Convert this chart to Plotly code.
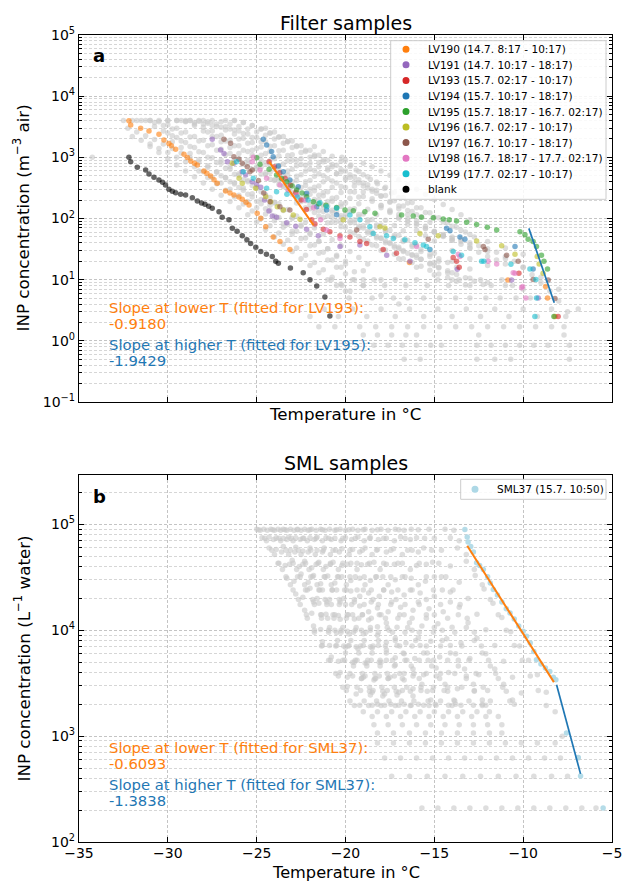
import math
import plotly.graph_objects as go

W, H = 624, 882
FONT = "DejaVu Sans"

# ---------------- panel a: filter samples ----------------
lv190_T = [-32.19,-32.09,-31.53,-31.06,-30.50,-30.22,-29.94,-29.80,-29.56,-29.09,-28.90,-28.71,-28.50,-28.34,-27.97,-27.80,-27.59,-27.40,-27.22,-26.75,-26.50,-26.28,-26.00,-25.81,-25.60,-25.43,-24.97,-24.77,-24.49,-24.07,-23.69,-23.13,-16.40,-10.86,-8.74,-8.63,-8.21]
lv190_y = [3970,3380,2990,2700,2380,1920,1690,1550,1350,1120,990,870,800,750,600,550,495,430,377,282,260,242,225,206,185,166,122,101,73,50,42,31,19,9.9,7.7,5.0,2.5]
lv191_T = [-27.50,-27.03,-26.84,-26.65,-26.28,-25.81,-25.62,-25.25,-25.00,-24.77,-24.55,-24.31,-24.12,-23.88,-23.31,-22.80,-22.19,-21.53,-20.31,-19.19,-17.68,-16.37,-13.71,-10.65,-9.15]
lv191_y = [1970,1320,1160,850,800,580,514,400,360,324,200,133,110,105,85,75,67,52,35,37,25,20,14.8,9.9,5.0]
lv193_T = [-24.30,-24.00,-23.70,-23.40,-23.10,-22.80,-22.50,-22.20,-21.90,-21.72,-21.25,-20.88,-20.31,-19.75,-19.19,-18.81,-17.88,-17.13,-13.94,-13.75,-13.60,-10.24,-8.03]
lv193_y = [850,700,560,450,350,265,200,140,95,81,67,61,52,50,42,39,31,27,23,20,16,12.7,2.5]
lv194_T = [-24.63,-24.44,-24.16,-24.07,-23.78,-23.50,-23.13,-22.66,-22.19,-21.62,-21.06,-20.50,-14.31,-14.12,-13.56,-13.28,-10.46,-9.44]
lv194_y = [1970,1590,1240,1020,720,580,427,331,258,156,138,115,69,63,50,46,35,15]
lv195_T = [-25.00,-24.81,-24.30,-23.88,-23.60,-23.31,-23.00,-22.75,-22.45,-22.19,-21.81,-21.50,-21.10,-20.50,-20.03,-19.56,-18.91,-18.34,-16.84,-16.19,-15.72,-15.06,-14.50,-14.16,-13.75,-13.18,-12.62,-12.02,-11.49,-10.18,-9.90,-9.72,-9.44,-9.25,-8.97,-8.83,-8.63,-8.27]
lv195_y = [985,770,640,514,450,400,340,292,260,227,188,175,165,152,138,134,129,122,114,110,105,103,98,95,91,87,80,72,65,61,54,46,42,35,25,20,15,2.5]
lv196_T = [-26.37,-25.99,-25.81,-25.06,-24.49,-24.21,-23.84,-23.50,-22.94,-22.56,-20.13,-18.06,-17.78,-15.81,-14.78,-12.62,-11.21,-10.46,-9.21,-9.10,-8.88]
lv196_y = [800,454,377,312,227,188,156,138,114,97,95,73,70,57,52,43,36,26,24,18,12.7]
lv197_T = [-26.84,-26.47,-26.28,-26.00,-25.81,-25.53,-25.38,-25.25,-24.90,-24.60,-24.25,-23.69,-23.13,-19.37,-15.34,-12.24,-12.15,-10.93,-10.28,-9.44,-8.59,-8.21]
lv197_y = [1970,1700,1020,930,800,700,580,620,420,260,188,156,138,65,46,35,31,25,20,10.1,9.9,4.9]
lv198_T = [-25.25,-25.19,-24.81,-24.44,-23.69,-23.22,-22.75,-22.28,-21.80,-21.40,-21.06,-20.31,-16.00,-15.25,-13.65,-13.56,-11.97,-11.49,-10.56,-10.46,-10.09,-10.03,-9.85]
lv198_y = [850,1000,620,454,353,292,242,200,150,95,65,47,35,31,26,24,20,18,13,12.7,7.4,7.7,5.0]
lv199_T = [-26.13,-25.75,-25.19,-24.44,-23.88,-23.30,-22.70,-22.10,-21.44,-21.06,-20.50,-19.75,-19.19,-18.63,-18.44,-17.69,-17.31,-16.66,-16.09,-15.62,-15.44,-15.25,-13.94,-13.47,-12.34,-12.21,-10.69,-9.62,-9.28,-9.25,-9.34]
lv199_y = [850,580,454,312,275,250,225,200,181,156,147,114,95,73,57,52,47,45,40,37,35,31,29,25,20,20,17.8,15,10.1,5.0,2.5]
blank_T = [-32.19,-32.09,-31.72,-31.25,-31.06,-30.78,-30.50,-30.30,-30.13,-29.94,-29.75,-29.56,-29.28,-29.00,-28.62,-28.34,-28.10,-27.91,-27.70,-27.50,-27.12,-26.94,-26.56,-26.37,-26.10,-25.81,-25.55,-25.34,-25.05,-24.77,-24.45,-24.12,-23.93,-23.78,-23.10,-22.38,-22.00,-21.62,-21.16,-20.88]
blank_y = [1000,850,690,620,535,472,427,390,353,300,280,264,249,242,219,193,180,171,158,147,129,105,95,69,62,52,45,39,34,29,26,24,20,18.5,15.5,13,10,7.9,5.2,2.55]

# fitted lines (panel a)
fit_a_low_T = [-24.3, -21.8]
fit_a_low_y = [850, 78]
fit_a_high_T = [-9.68, -8.25]
fit_a_high_y = [69, 4.2]

# other filter samples (grey background)
gray_a_T = [
    [-34.25],
    [-32.5,-32.0,-31.5,-31.0,-30.5,-30.0,-29.5,-29.0,-28.5,-28.0,-27.5,-27.0,-26.5,-26.0,-25.5,-25.0,-24.5,-24.0,-23.5,-23.0,-22.5,-22.0,-21.5,-21.0,-20.5,-20.0,-19.5,-19.0,-18.5,-18.0,-17.5,-17.0,-16.5,-16.0],
    [-31.0,-30.5,-30.0,-29.5,-29.0,-28.5,-28.0,-27.5,-27.0,-26.5,-26.0,-25.5,-25.0,-24.5,-24.0,-23.5,-23.0,-22.5,-22.0,-21.5,-21.0,-20.5,-20.0,-19.5,-19.0,-18.5,-18.0,-17.0,-16.0,-15.0,-14.0],
    [-30.0,-29.5,-29.0,-28.5,-28.0,-27.5,-27.0,-26.5,-26.0,-25.5,-25.0,-24.5,-24.0,-23.5,-23.0,-22.5,-22.0,-21.5,-21.0,-20.5,-20.0,-19.5,-19.0,-18.5,-18.0,-17.5,-17.0,-16.0,-15.0],
    [-31.0,-30.5,-30.0,-29.5,-29.0,-28.5,-28.0,-27.5,-27.0,-26.5,-26.0,-25.5,-25.0,-24.5,-24.0,-23.5,-23.0,-22.5,-22.0,-21.5,-21.0,-20.5,-20.0],
    [-30.0,-29.5,-29.0,-28.5,-28.0,-27.5,-27.0,-26.5,-26.0,-25.5,-25.0,-24.5,-24.0,-23.5,-23.0,-22.5,-22.0,-21.5,-21.0,-20.5,-20.0,-19.0,-18.0],
    [-28.0,-27.5,-27.0,-26.5,-26.0,-25.5,-25.0,-24.5,-24.0,-23.5,-23.0,-22.5,-22.0,-21.5,-21.0,-20.5,-20.0,-19.5,-19.0,-18.5,-18.0,-17.5,-17.0,-16.5,-16.0,-15.5,-15.0,-14.0,-13.0,-12.0],
    [-20.2,-20.0,-19.7,-19.4,-19.0,-18.6,-18.2,-17.8,-17.4,-17.0,-16.5,-16.0,-15.5,-15.0,-14.5,-14.0,-13.5,-13.0,-12.0,-11.0,-10.0],
    [-27.0,-26.5,-26.0,-25.5,-25.0,-24.5,-24.0,-23.5,-23.0,-22.5,-22.0,-21.5,-21.0,-20.5,-20.0,-19.5,-19.0,-18.0,-17.0],
    [-26.0,-25.5,-25.0,-24.5,-24.0,-23.5,-23.0,-22.5,-22.0,-21.5,-21.0,-20.5,-20.0,-19.5,-19.0,-18.5,-18.0,-17.5,-17.0,-16.5,-16.0,-15.0,-14.0,-13.0],
    [-24.5,-24.0,-23.5,-23.0,-22.5,-22.0,-21.5,-21.0,-20.5,-20.0,-19.5,-19.0,-18.5,-18.0,-17.5,-17.0,-16.5,-16.0,-15.5,-15.0,-14.5,-14.0,-13.0],
    [-22.0,-21.5,-21.0,-20.5,-20.0,-19.5,-19.0,-18.5,-18.0,-17.5,-17.0,-16.5,-16.0,-15.0,-14.0,-13.0,-12.0,-11.0,-10.0],
    [-15.0,-14.5,-14.0,-13.5,-13.0,-12.5,-12.0,-11.5,-11.0,-10.5,-10.0,-9.5,-9.0,-8.5,-8.0,-7.5],
    [-18.0,-17.5,-17.0,-16.5,-16.0,-15.5,-15.0,-14.5,-14.0,-13.5,-13.0,-12.0,-11.0,-10.0,-9.0,-8.0],
    [-19.0,-18.5,-18.0,-17.5,-17.0,-16.5,-16.0,-15.5,-15.0,-14.5,-14.0,-13.5,-13.0],
    [-29.0,-28.5,-28.0,-27.5,-27.0,-26.5,-26.0,-25.5,-25.0,-24.5,-24.0,-23.5,-23.0,-22.5,-22.0,-21.5,-21.0],
    [-32.0,-31.5,-31.0,-30.5,-30.0,-29.5,-29.0,-28.5,-28.0,-27.5,-27.0,-26.5,-26.0,-25.5,-25.0,-24.5,-24.0,-23.5,-23.0],
    [-27.0,-26.5,-26.0,-25.5,-25.0,-24.5,-24.0,-23.5,-23.0,-22.5,-22.0,-21.5,-21.0,-20.5,-20.0,-19.5,-19.0],
    [-23.0,-22.5,-22.0,-21.5,-21.0,-20.5,-20.0,-19.5,-19.0,-18.5,-18.0,-17.5,-17.0,-16.5,-16.0,-15.5,-15.0,-14.5,-14.0,-13.5,-13.0,-12.5,-12.0,-11.5,-11.0],
    [-31.75,-31.25,-30.75,-30.25,-29.75,-29.25,-28.75,-28.25,-27.75,-27.25,-26.75,-26.25,-25.75,-25.25,-24.75,-24.25,-23.75,-23.25,-22.75,-22.25,-21.75,-21.25,-20.75,-20.25],
    [-30.75,-30.25,-29.75,-29.25,-28.75,-28.25,-27.75,-27.25,-26.75,-26.25,-25.75,-25.25,-24.75,-24.25,-23.75,-23.25,-22.75,-22.25,-21.75,-21.25,-20.75,-20.25,-19.75,-19.25,-18.75],
    [-29.25,-28.75,-28.25,-27.75,-27.25,-26.75,-26.25,-25.75,-25.25,-24.75,-24.25,-23.75,-23.25,-22.75,-22.25,-21.75,-21.25,-20.75,-20.25,-19.75,-19.25,-18.75,-18.25,-17.75,-17.25,-16.75],
    [-27.75,-27.25,-26.75,-26.25,-25.75,-25.25,-24.75,-24.25,-23.75,-23.25,-22.75,-22.25,-21.75,-21.25,-20.75,-20.25,-19.75,-19.25,-18.75,-18.25,-17.75,-17.25,-16.75,-16.25,-15.75,-15.25,-14.75],
    [-26.25,-25.75,-25.25,-24.75,-24.25,-23.75,-23.25,-22.75,-22.25,-21.75,-21.25,-20.75,-20.25,-19.75,-19.25,-18.75,-18.25,-17.75,-17.25,-16.75,-16.25,-15.75,-15.25],
    [-29.75,-29.25,-28.75,-28.25,-27.75,-27.25,-26.75,-26.25,-25.75,-25.25,-24.75,-24.25,-23.75,-23.25,-22.75,-22.25,-21.75,-21.25,-20.75,-20.25],
    [-25.25,-24.75,-24.25,-23.75,-23.25,-22.75,-22.25,-21.75,-21.25,-20.75,-20.25,-19.75,-19.25,-18.75,-18.25,-17.75,-17.25,-16.75,-16.25,-15.75,-15.25,-14.75,-14.25,-13.75],
    [-23.75,-23.25,-22.75,-22.25,-21.75,-21.25,-20.75,-20.25,-19.75,-19.25,-18.75,-18.25,-17.75,-17.25,-16.75,-16.25,-15.75,-15.25,-14.75,-14.25,-13.75,-13.25,-12.75,-12.25],
    [-21.75,-21.25,-20.75,-20.25,-19.75,-19.25,-18.75,-18.25,-17.75,-17.25,-16.75,-16.25,-15.75,-15.25,-14.75,-14.25,-13.75,-13.25,-12.75],
    [-28.25,-27.75,-27.25,-26.75,-26.25,-25.75,-25.25,-24.75,-24.25,-23.75,-23.25,-22.75,-22.25,-21.75,-21.25,-20.75,-20.25,-19.75],
    [-24.75,-24.25,-23.75,-23.25,-22.75,-22.25,-21.75,-21.25,-20.75,-20.25,-19.75,-19.25,-18.75,-18.25,-17.75,-17.25,-16.75,-16.25,-15.75,-15.25,-14.75,-14.25],
    [-32.25,-31.75,-31.25,-30.75,-30.25,-29.75,-29.25,-28.75,-28.25,-27.75,-27.25,-26.75,-26.25,-25.75,-25.25,-24.75,-24.25],
    [-28.75,-28.25,-27.75,-27.25,-26.75,-26.25,-25.75,-25.25,-24.75,-24.25,-23.75,-23.25,-22.75,-22.25,-21.75,-21.25,-20.75,-20.25,-19.75,-19.25],
    [-26.75,-26.25,-25.75,-25.25,-24.75,-24.25,-23.75,-23.25,-22.75,-22.25,-21.75,-21.25,-20.75,-20.25,-19.75,-19.25,-18.75,-18.25],
    [-22.75,-22.25,-21.75,-21.25,-20.75,-20.25,-19.75,-19.25,-18.75,-18.25,-17.75,-17.25,-16.75,-16.25,-15.75,-15.25,-14.75,-14.25,-13.75,-13.25],
]
gray_a_y = [
    [1000],
    [4000,4000,4000,4000,4000,4000,4000,3900,3700,3500,3300,3100,2900,2700,2400,2100,1800,1550,1300,1100,950,800,700,620,540,470,400,340,280,230,190,160,135,115],
    [4000,3800,3400,3000,2600,2200,1900,1600,1350,1150,950,800,650,520,420,340,270,210,170,135,110,90,72,58,46,37,30,22,16,12,10],
    [4000,4000,3800,3500,3100,2700,2300,1900,1550,1250,1000,800,640,500,400,320,250,200,160,130,105,85,70,57,47,40,34,25,19],
    [1500,1200,950,750,600,480,380,300,240,190,150,115,88,66,50,38,29,22,17,13,10,8,6.5],
    [2500,2100,1750,1450,1200,980,800,640,510,400,310,240,180,135,100,75,56,42,32,25,20,14,10],
    [4000,4000,3800,3500,3200,2900,2600,2300,2000,1700,1450,1200,1000,820,670,540,430,340,270,210,165,130,100,80,64,52,43,30,22,17],
    [1000,900,750,620,520,440,370,310,260,220,180,150,125,105,88,75,64,55,42,33,26],
    [500,400,320,250,190,145,110,82,62,47,36,27,21,16,12.5,10,8,5.5,4],
    [2000,1700,1400,1150,950,780,640,520,420,340,275,220,180,145,118,96,78,64,53,44,37,27,20,15],
    [3000,2600,2200,1850,1550,1300,1080,900,740,600,480,380,300,235,185,145,115,92,75,62,52,44,33],
    [300,240,190,150,120,95,76,60,48,39,32,27,23,17,13,10.5,9,8,7],
    [60,55,50,45,40,36,32,28,24,20,16,12,9,6.5,4.5,3],
    [150,125,105,90,78,68,60,53,47,42,37,29,22,16,11,7],
    [800,700,600,510,430,360,300,250,205,170,140,115,95],
    [4000,3300,2700,2200,1800,1450,1150,900,700,550,430,330,250,190,145,110,85],
    [2200,1900,1650,1400,1200,1000,850,700,580,470,380,300,240,190,150,118,92,72,56],
    [900,700,540,420,320,245,185,140,105,78,58,43,32,24,18,13.5,10],
    [900,760,640,540,450,380,320,270,228,192,162,137,116,98,83,70,60,51,44,38,33,28,24,21,18],
    [4000,4000,3700,3300,2900,2500,2150,1850,1550,1300,1100,920,770,640,530,440,360,295,240,195,160,130,105,85],
    [3200,2700,2250,1850,1500,1230,1000,820,660,530,430,345,275,220,175,140,110,88,70,56,45,36,29,23,18],
    [4000,4000,3900,3600,3200,2800,2400,2050,1750,1480,1250,1050,880,730,600,490,400,325,265,215,175,142,115,94,77,63],
    [2600,2200,1850,1550,1300,1080,900,750,620,510,420,345,285,235,192,158,130,107,88,72,60,50,42,35,29,24,20],
    [4000,3700,3300,2900,2500,2150,1830,1550,1300,1090,910,760,630,520,430,355,290,238,195,160,130,107,88],
    [1800,1450,1150,920,730,580,460,365,290,225,175,135,104,80,62,48,37,28,21,16],
    [1300,1080,890,730,600,490,400,325,265,215,175,142,116,95,78,64,53,44,37,31,26,22,19,16],
    [420,345,282,230,188,154,126,103,85,70,58,48,40,34,29,25,21.5,18.5,16,14,12.2,10.7,9.4,8.3],
    [1500,1250,1040,860,710,585,480,395,325,268,220,182,150,124,103,86,72,60,50],
    [600,470,370,290,225,172,132,100,76,58,44,33,25,19,14.5,11,8.5,6.5],
    [700,570,465,380,310,252,205,167,136,111,91,75,62,51,43,36,30,25.5,21.5,18,15.5,13],
    [3000,2600,2250,1950,1650,1400,1180,990,830,690,570,470,385,315,255,205,165],
    [4000,4000,3800,3500,3150,2800,2450,2100,1800,1520,1280,1070,890,740,610,500,410,335,275,225],
    [4000,4000,3700,3300,2900,2500,2150,1800,1500,1250,1030,850,700,575,470,385,315,258],
    [180,150,125,104,87,73,61,51,43,36,30.5,26,22,19,16.5,14.2,12.4,10.8,9.4,8.2],
]
# detection-limit rows of the grey samples (level, temperatures)
rows_a_levels = [10, 8, 5, 3.3, 2.5, 1.7, 1.25, 0.85, 0.5]
rows_a_T = [
    [-20.8,-19.6,-18.4,-17.2,-16.0,-14.8,-13.6,-12.4,-11.2],
    [-20.2,-19.0,-17.8,-16.6,-15.4,-14.2,-13.0,-11.8,-10.6],
    [-19.8,-18.5,-17.3,-16.5,-15.6,-14.7,-13.8,-13.0,-12.1,-11.3,-10.4,-9.6],
    [-21.2,-19.6,-18.0,-16.4,-14.8,-13.2,-11.6,-10.0,-8.4,-6.9],
    [-22.0,-20.4,-18.8,-17.2,-15.6,-14.0,-12.4,-10.8,-9.2,-7.6],
    [-21.5,-20.6,-19.2,-18.3,-17.4,-16.5,-15.6,-14.7,-13.8,-12.9,-12.0,-11.1,-10.2,-9.3,-8.4,-7.7],
    [-19.0,-18.2,-17.4,-16.6,-16.0,-12.5,-7.7],
    [-18.4,-17.6,-16.8,-16.0,-15.2,-14.6,-12.6,-11.8,-11.0,-10.2,-9.4,-8.6,-7.4],
    [-16.7,-15.8,-12.6,-11.6,-10.7,-7.4],
]

# ---------------- panel b: SML samples ----------------
sml37_T = [-13.28,-13.15,-13.10,-12.95,-12.80,-12.62,-12.45,-12.24,-12.00,-11.85,-11.68,-11.45,-11.20,-10.95,-10.74,-10.50,-10.25,-10.00,-9.81,-9.60,-9.40,-9.25,-9.00,-8.75,-8.50,-8.30,-8.16,-7.56,-6.90,-6.77,-5.50]
sml37_y = [89800,75900,68100,62000,55000,43500,41000,37500,32000,28000,24300,21500,18500,16000,14600,12800,11000,9800,8770,7600,6300,5280,4800,4400,4090,3600,3410,1070,630,421,209]

fit_b_low_T = [-13.15, -8.27]
fit_b_low_y = [63000, 3240]
fit_b_high_T = [-8.12, -6.77]
fit_b_high_y = [3060, 440]

gray_b_T = [
    [-25.0,-24.7,-24.3,-23.8,-23.3,-22.8,-22.3,-21.8,-21.3,-20.8,-20.3,-19.9],
    [-24.6,-24.3,-23.9,-23.4,-22.9,-22.4,-21.9,-21.4,-20.9,-20.4,-19.9,-19.4],
    [-24.2,-23.9,-23.5,-23.0,-22.5,-22.0,-21.5,-21.0,-20.5,-20.0,-19.5,-19.0,-18.5],
    [-23.8,-23.5,-23.1,-22.6,-22.1,-21.6,-21.1,-20.6,-20.1,-19.6,-19.1,-18.6],
    [-23.5,-23.2,-22.8,-22.3,-21.8,-21.3,-20.8,-20.3,-19.8,-19.3,-18.8,-18.3,-17.8],
    [-23.1,-22.8,-22.4,-21.9,-21.4,-20.9,-20.4,-19.9,-19.4,-18.9,-18.4,-17.9],
    [-22.7,-22.4,-22.0,-21.5,-21.0,-20.5,-20.0,-19.5,-19.0,-18.5,-18.0,-17.5,-17.0],
    [-22.3,-22.0,-21.6,-21.1,-20.6,-20.1,-19.6,-19.1,-18.6,-18.1,-17.6,-17.1],
    [-21.9,-21.6,-21.2,-20.7,-20.2,-19.7,-19.2,-18.7,-18.2,-17.7,-17.2,-16.7,-16.2],
    [-21.4,-21.1,-20.7,-20.2,-19.7,-19.2,-18.7,-18.2,-17.7,-17.2,-16.7,-16.2],
    [-20.9,-20.6,-20.2,-19.7,-19.2,-18.7,-18.2,-17.7,-17.2,-16.7,-16.2,-15.7,-15.2],
    [-20.3,-20.0,-19.6,-19.1,-18.6,-18.1,-17.6,-17.1,-16.6,-16.1,-15.6,-15.1],
    [-19.6,-19.3,-18.9,-18.4,-17.9,-17.4,-16.9,-16.4,-15.9,-15.4,-14.9,-14.4,-13.9],
    [-18.9,-18.6,-18.2,-17.7,-17.2,-16.7,-16.2,-15.7,-15.2,-14.7,-14.2,-13.7],
    [-18.0,-17.7,-17.3,-16.8,-16.3,-15.8,-15.3,-14.8,-14.3,-13.8,-13.3,-12.8,-12.3],
    [-17.2,-16.9,-16.5,-16.0,-15.5,-15.0,-14.5,-14.0,-13.5,-13.0,-12.5,-12.0],
    [-16.3,-16.0,-15.6,-15.1,-14.6,-14.1,-13.6,-13.1,-12.6,-12.1,-11.6,-11.1,-10.6],
    [-15.3,-15.0,-14.6,-14.1,-13.6,-13.1,-12.6,-12.1,-11.6,-11.1,-10.6,-10.1],
    [-14.4,-14.1,-13.7,-13.2,-12.7,-12.2,-11.7,-11.2,-10.7,-10.2,-9.7,-9.2,-8.7,-8.2,-7.8],
    [-24.8,-24.45,-24.0,-23.55,-23.1,-22.65,-22.2,-21.75,-21.3,-20.85,-20.4,-19.95,-19.5],
    [-24.4,-24.05,-23.6,-23.15,-22.7,-22.25,-21.8,-21.35,-20.9,-20.45,-20.0,-19.55,-19.1,-18.65,-18.2],
    [-24.0,-23.65,-23.2,-22.75,-22.3,-21.85,-21.4,-20.95,-20.5,-20.05,-19.6,-19.15,-18.7],
    [-23.65,-23.3,-22.85,-22.4,-21.95,-21.5,-21.05,-20.6,-20.15,-19.7,-19.25,-18.8,-18.35,-17.9,-17.45],
    [-23.3,-22.95,-22.5,-22.05,-21.6,-21.15,-20.7,-20.25,-19.8,-19.35,-18.9,-18.45,-18.0],
    [-22.9,-22.55,-22.1,-21.65,-21.2,-20.75,-20.3,-19.85,-19.4,-18.95,-18.5,-18.05,-17.6,-17.15,-16.7],
    [-22.5,-22.15,-21.7,-21.25,-20.8,-20.35,-19.9,-19.45,-19.0,-18.55,-18.1,-17.65,-17.2],
    [-22.1,-21.75,-21.3,-20.85,-20.4,-19.95,-19.5,-19.05,-18.6,-18.15,-17.7,-17.25,-16.8,-16.35,-15.9],
    [-21.65,-21.3,-20.85,-20.4,-19.95,-19.5,-19.05,-18.6,-18.15,-17.7,-17.25,-16.8,-16.35],
    [-21.15,-20.8,-20.35,-19.9,-19.45,-19.0,-18.55,-18.1,-17.65,-17.2,-16.75,-16.3,-15.85,-15.4,-14.95],
    [-20.6,-20.25,-19.8,-19.35,-18.9,-18.45,-18.0,-17.55,-17.1,-16.65,-16.2,-15.75,-15.3],
    [-20.0,-19.65,-19.2,-18.75,-18.3,-17.85,-17.4,-16.95,-16.5,-16.05,-15.6,-15.15,-14.7,-14.25,-13.8],
    [-19.3,-18.95,-18.5,-18.05,-17.6,-17.15,-16.7,-16.25,-15.8,-15.35,-14.9,-14.45,-14.0],
    [-18.5,-18.15,-17.7,-17.25,-16.8,-16.35,-15.9,-15.45,-15.0,-14.55,-14.1,-13.65,-13.2,-12.75,-12.3],
    [-17.6,-17.25,-16.8,-16.35,-15.9,-15.45,-15.0,-14.55,-14.1,-13.65,-13.2,-12.75,-12.3],
    [-16.7,-16.35,-15.9,-15.45,-15.0,-14.55,-14.1,-13.65,-13.2,-12.75,-12.3,-11.85,-11.4,-10.95,-10.5],
    [-13.9,-13.6,-13.2,-12.75,-12.3,-11.85,-11.4,-10.95,-10.5,-10.05,-9.6,-9.15,-8.7],
    [-24.9,-24.55,-24.15,-23.75,-23.35,-22.95,-22.55,-22.15,-21.75,-21.35,-20.95,-20.55,-20.15,-19.75],
    [-24.1,-23.75,-23.35,-22.95,-22.55,-22.15,-21.75,-21.35,-20.95,-20.55,-20.15,-19.75,-19.35,-18.95],
    [-23.4,-23.05,-22.65,-22.25,-21.85,-21.45,-21.05,-20.65,-20.25,-19.85,-19.45,-19.05,-18.65,-18.25],
    [-22.7,-22.35,-21.95,-21.55,-21.15,-20.75,-20.35,-19.95,-19.55,-19.15,-18.75,-18.35,-17.95,-17.55],
    [-22.0,-21.65,-21.25,-20.85,-20.45,-20.05,-19.65,-19.25,-18.85,-18.45,-18.05,-17.65,-17.25,-16.85],
    [-21.3,-20.95,-20.55,-20.15,-19.75,-19.35,-18.95,-18.55,-18.15,-17.75,-17.35,-16.95,-16.55,-16.15],
    [-20.5,-20.15,-19.75,-19.35,-18.95,-18.55,-18.15,-17.75,-17.35,-16.95,-16.55,-16.15,-15.75,-15.35],
    [-19.8,-19.45,-19.05,-18.65,-18.25,-17.85,-17.45,-17.05,-16.65,-16.25,-15.85,-15.45,-15.05,-14.65],
    [-19.0,-18.65,-18.25,-17.85,-17.45,-17.05,-16.65,-16.25,-15.85,-15.45,-15.05,-14.65,-14.25,-13.85],
    [-18.2,-17.85,-17.45,-17.05,-16.65,-16.25,-15.85,-15.45,-15.05,-14.65,-14.25,-13.85,-13.45,-13.05],
    [-17.0,-16.65,-16.25,-15.85,-15.45,-15.05,-14.65,-14.25,-13.85,-13.45,-13.05,-12.65,-12.25,-11.85],
    [-15.9,-15.55,-15.15,-14.75,-14.35,-13.95,-13.55,-13.15,-12.75,-12.35,-11.95,-11.55,-11.15,-10.75],
]
gray_b_y = [
    [90000,75000,60000,43000,31000,22000,15500,11000,7800,5600,4000,2950],
    [90000,76000,58000,41000,29000,20500,14500,10200,7200,5100,3600,2500],
    [90000,75000,62000,46000,34000,25000,18000,13000,9500,6900,5000,3600,2600],
    [90000,74000,57000,40000,28500,20000,14200,10000,7100,5000,3500,2450],
    [90000,76000,61000,45000,33000,24000,17500,12700,9200,6700,4900,3500,2500],
    [90000,75000,56000,39000,27500,19500,13800,9800,7000,4900,3400,2400],
    [90000,74000,60000,44000,32500,24000,17500,12800,9300,6800,5000,3600,2600],
    [90000,75000,57000,40000,28000,20000,14000,10000,7000,5000,3500,2450],
    [90000,76000,60000,44000,32000,23500,17000,12500,9000,6500,4700,3400,2400],
    [90000,75000,57000,41000,29500,21000,15000,10800,7700,5500,3900,2800],
    [90000,74000,59000,43000,31000,22500,16200,11700,8400,6000,4300,3100,2200],
    [90000,75000,58000,41500,29500,21000,15000,10700,7600,5400,3800,2700],
    [90000,76000,60000,44000,32000,23000,16500,11800,8500,6100,4400,3100,2200],
    [90000,75000,58000,42000,30000,21500,15500,11000,7900,5600,4000,2800],
    [90000,74000,59000,43000,31000,22500,16000,11500,8300,6000,4300,3100,2200],
    [90000,76000,57000,41000,29000,21000,15000,10700,7600,5400,3800,2700],
    [90000,75000,60000,44000,32000,23000,16500,11800,8400,6000,4300,3100,2200],
    [90000,74000,57000,40500,28500,20000,14200,10100,7200,5100,3600,2550],
    [90000,75000,60000,45000,33000,24500,18000,13200,9700,7100,5200,3800,2600,1700,1000],
    [88000,70000,52000,37500,27000,19500,14000,10000,7200,5200,3700,2700,1950],
    [88000,72000,55000,42000,32000,24000,18500,14000,10600,8000,6100,4600,3500,2650,2000],
    [88000,70000,52000,37500,27000,19500,14000,10000,7200,5200,3700,2700,1950],
    [88000,72000,55000,42000,32000,24000,18500,14000,10600,8000,6100,4600,3500,2650,2000],
    [88000,70000,52000,37500,27000,19500,14000,10000,7200,5200,3700,2700,1950],
    [88000,72000,55000,42000,32000,24000,18500,14000,10600,8000,6100,4600,3500,2650,2000],
    [88000,70000,52000,37500,27000,19500,14000,10000,7200,5200,3700,2700,1950],
    [88000,72000,55000,42000,32000,24000,18500,14000,10600,8000,6100,4600,3500,2650,2000],
    [88000,70000,52000,37500,27000,19500,14000,10000,7200,5200,3700,2700,1950],
    [88000,72000,55000,42000,32000,24000,18500,14000,10600,8000,6100,4600,3500,2650,2000],
    [88000,70000,52000,37500,27000,19500,14000,10000,7200,5200,3700,2700,1950],
    [88000,72000,55000,42000,32000,24000,18500,14000,10600,8000,6100,4600,3500,2650,2000],
    [88000,70000,52000,37500,27000,19500,14000,10000,7200,5200,3700,2700,1950],
    [88000,72000,55000,42000,32000,24000,18500,14000,10600,8000,6100,4600,3500,2650,2000],
    [88000,70000,52000,37500,27000,19500,14000,10000,7200,5200,3700,2700,1950],
    [88000,72000,55000,42000,32000,24000,18500,14000,10600,8000,6100,4600,3500,2650,2000],
    [88000,70000,52000,37500,27000,19500,14000,10000,7200,5200,3700,2700,1950],
    [89000,74000,57000,43000,32000,24000,17500,13000,9600,7100,5200,3900,2900,2150],
    [89000,74000,57000,43000,32000,24000,17500,13000,9600,7100,5200,3900,2900,2150],
    [89000,74000,57000,43000,32000,24000,17500,13000,9600,7100,5200,3900,2900,2150],
    [89000,74000,57000,43000,32000,24000,17500,13000,9600,7100,5200,3900,2900,2150],
    [89000,74000,57000,43000,32000,24000,17500,13000,9600,7100,5200,3900,2900,2150],
    [89000,74000,57000,43000,32000,24000,17500,13000,9600,7100,5200,3900,2900,2150],
    [89000,74000,57000,43000,32000,24000,17500,13000,9600,7100,5200,3900,2900,2150],
    [89000,74000,57000,43000,32000,24000,17500,13000,9600,7100,5200,3900,2900,2150],
    [89000,74000,57000,43000,32000,24000,17500,13000,9600,7100,5200,3900,2900,2150],
    [89000,74000,57000,43000,32000,24000,17500,13000,9600,7100,5200,3900,2900,2150],
    [89000,74000,57000,43000,32000,24000,17500,13000,9600,7100,5200,3900,2900,2150],
    [89000,74000,57000,43000,32000,24000,17500,13000,9600,7100,5200,3900,2900,2150],
]
rows_b_levels = [1960, 1700, 1535, 1280, 1070, 860, 620, 417, 209]
rows_b_T = [
    [-19.2,-18.5,-17.8,-17.0,-16.3,-15.6,-14.9,-14.2,-13.5,-12.8,-12.1],
    [-19.0,-18.2,-17.4,-16.6,-15.8,-15.0,-14.2,-13.4,-12.6,-11.9],
    [-18.5,-17.7,-16.9,-16.1,-15.3,-14.5,-13.7,-12.9,-12.1,-11.4],
    [-18.4,-17.6,-16.8,-16.0,-15.2,-14.4,-13.6,-12.8,-12.0,-11.2],
    [-18.2,-17.3,-16.4,-15.5,-14.6,-13.7,-12.8,-11.9,-11.2],
    [-18.2,-17.3,-16.4,-15.5,-14.6,-13.7,-12.8,-11.9,-11.0,-10.1,-9.2,-8.2],
    [-17.8,-16.9,-16.0,-15.1,-14.2,-13.3,-12.4,-11.5,-10.6,-9.7,-8.8,-7.9,-6.9],
    [-17.4,-16.4,-15.4,-14.4,-13.4,-12.4,-11.4,-10.4,-9.4,-8.4,-7.5],
    [-15.7,-14.8,-13.9,-13.0,-12.1,-11.2,-10.3,-9.4,-8.5,-7.6,-6.7,-5.9],
]

x_tickvals = [-35, -30, -25, -20, -15, -10, -5]
ya_tickvals = [0.1, 1, 10, 100, 1000, 10000, 100000]
yb_tickvals = [100, 1000, 10000, 100000]

series_a = [
    ("LV190 (14.7. 8:17 - 10:17)", "#ff7f0e", lv190_T, lv190_y),
    ("LV191 (14.7. 10:17 - 18:17)", "#9467bd", lv191_T, lv191_y),
    ("LV193 (15.7. 02:17 - 10:17)", "#d62728", lv193_T, lv193_y),
    ("LV194 (15.7. 10:17 - 18:17)", "#1f77b4", lv194_T, lv194_y),
    ("LV195 (15.7. 18:17 - 16.7. 02:17)", "#2ca02c", lv195_T, lv195_y),
    ("LV196 (16.7. 02:17 - 10:17)", "#bcbd22", lv196_T, lv196_y),
    ("LV197 (16.7. 10:17 - 18:17)", "#8c564b", lv197_T, lv197_y),
    ("LV198 (16.7. 18:17 - 17.7. 02:17)", "#e377c2", lv198_T, lv198_y),
    ("LV199 (17.7. 02:17 - 10:17)", "#17becf", lv199_T, lv199_y),
    ("blank", "#000000", blank_T, blank_y),
]

ORANGE = "#ff7f0e"
BLUE = "#1f77b4"
GRAY = "rgb(200,200,200)"


def flat(lol):
    return [v for sub in lol for v in sub]


def row_points(levels, ts):
    xs, ys = [], []
    for lvl, tl in zip(levels, ts):
        for t in tl:
            xs.append(t)
            ys.append(lvl)
    return xs, ys


fig = go.Figure()

# panel a grey
rx, ry = row_points(rows_a_levels, rows_a_T)
fig.add_trace(go.Scatter(x=flat(gray_a_T) + rx, y=flat(gray_a_y) + ry, mode="markers",
                         marker=dict(size=5.5, color=GRAY, opacity=0.6), xaxis="x", yaxis="y",
                         showlegend=False, hoverinfo="skip"))
for name, col, tx, ty in series_a:
    fig.add_trace(go.Scatter(x=tx, y=ty, mode="markers", name=name,
                             marker=dict(size=5.5, color=col, opacity=0.6),
                             xaxis="x", yaxis="y", showlegend=False))
fig.add_trace(go.Scatter(x=fit_a_low_T, y=fit_a_low_y, mode="lines", line=dict(color=ORANGE, width=2),
                         xaxis="x", yaxis="y", showlegend=False))
fig.add_trace(go.Scatter(x=fit_a_high_T, y=fit_a_high_y, mode="lines", line=dict(color=BLUE, width=1.7),
                         xaxis="x", yaxis="y", showlegend=False))

# panel b grey
rx, ry = row_points(rows_b_levels, rows_b_T)
fig.add_trace(go.Scatter(x=flat(gray_b_T) + rx, y=flat(gray_b_y) + ry, mode="markers",
                         marker=dict(size=5.5, color=GRAY, opacity=0.6), xaxis="x2", yaxis="y2",
                         showlegend=False, hoverinfo="skip"))
fig.add_trace(go.Scatter(x=sml37_T, y=sml37_y, mode="markers", name="SML37 (15.7. 10:50)",
                         marker=dict(size=5.5, color="#add8e6", opacity=0.9),
                         xaxis="x2", yaxis="y2", showlegend=False))
fig.add_trace(go.Scatter(x=fit_b_low_T, y=fit_b_low_y, mode="lines", line=dict(color=ORANGE, width=2),
                         xaxis="x2", yaxis="y2", showlegend=False))
fig.add_trace(go.Scatter(x=fit_b_high_T, y=fit_b_high_y, mode="lines", line=dict(color=BLUE, width=1.7),
                         xaxis="x2", yaxis="y2", showlegend=False))


def pxx(p):
    return p / W


def pxy(p):
    return 1 - p / H


common = dict(showline=True, linecolor="black", linewidth=1.3, mirror="allticks",
              ticks="inside", ticklen=5, tickwidth=1, tickcolor="black",
              showgrid=True, gridcolor="#c4c4c4", griddash="3px,2px", gridwidth=0.8,
              zeroline=False, tickfont=dict(family=FONT, size=14, color="black"))
minor = dict(ticks="inside", ticklen=3, tickcolor="black", showgrid=True,
             gridcolor="#d6d6d6", griddash="3px,2px", gridwidth=0.7, dtick="D1")


def sup_labels(vals):
    out = []
    for v in vals:
        p = int(round(math.log10(v)))
        out.append("10<sup>%s</sup>" % (("\u2212%d" % -p) if p < 0 else str(p)))
    return out


fig.update_layout(
    width=W, height=H, margin=dict(l=0, r=0, t=0, b=0, autoexpand=False),
    plot_bgcolor="white", paper_bgcolor="white",
    font=dict(family=FONT, color="black"),
    xaxis=dict(domain=[pxx(79), pxx(612)], anchor="y", range=[-35, -5], tickmode="array",
               tickvals=x_tickvals, showticklabels=False, **common),
    yaxis=dict(domain=[pxy(402), pxy(35)], anchor="x", type="log", range=[-1, 5],
               tickmode="array", tickvals=ya_tickvals, ticktext=sup_labels(ya_tickvals),
               minor=minor, **common),
    xaxis2=dict(domain=[pxx(79), pxx(612)], anchor="y2", range=[-35, -5], tickmode="array",
                tickvals=x_tickvals, ticklabelstandoff=-2, **common),
    yaxis2=dict(domain=[pxy(842), pxy(475)], anchor="x2", type="log", range=[2, 5.467],
                tickmode="array", tickvals=yb_tickvals, ticktext=sup_labels(yb_tickvals),
                minor=minor, **common),
)

ann = []
shapes = []


def text(t, x, y, size, color="black", xanchor="center", angle=0, bold=False):
    ann.append(dict(text=("<b>%s</b>" % t) if bold else t, x=pxx(x), y=pxy(y), xref="paper", yref="paper",
                    xanchor=xanchor, yanchor="middle", showarrow=False, textangle=angle,
                    font=dict(family=FONT, size=size, color=color)))


text("Filter samples", 345.5, 23.4, 19)
text("SML samples", 345.5, 463.4, 19)
text("Temperature in °C", 345.5, 413.5, 16.7)
text("Temperature in °C", 345.5, 872.3, 16.2)
text("INP concentration (m<sup>\u22123</sup> air)", 22, 218.5, 16.7, angle=-90)
text("INP concentration (L<sup>\u22121</sup> water)", 22, 658.5, 16.7, angle=-90)
text("a", 91, 55.4, 18, xanchor="left", bold=True)
text("b", 91, 496, 18, xanchor="left", bold=True)
text("Slope at lower T (fitted for LV193):", 107, 307.5, 14.8, ORANGE, "left")
text("-0.9180", 107, 323.8, 14.8, ORANGE, "left")
text("Slope at higher T (fitted for LV195):", 107, 344.1, 14.8, BLUE, "left")
text("-1.9429", 107, 360.5, 14.8, BLUE, "left")
text("Slope at lower T (fitted for SML37):", 107, 747.5, 14.8, ORANGE, "left")
text("-0.6093", 107, 763.8, 14.8, ORANGE, "left")
text("Slope at higher T (fitted for SML37):", 107, 784.1, 14.8, BLUE, "left")
text("-1.3838", 107, 800.8, 14.8, BLUE, "left")

# legend a (drawn as box + swatches + text)
shapes.append(dict(type="rect", xref="paper", yref="paper", x0=pxx(390.7), x1=pxx(606),
                   y0=pxy(199.3), y1=pxy(40.7), line=dict(color="#cccccc", width=1),
                   fillcolor="rgba(255,255,255,0.85)", layer="above"))
for i, (name, col, _, _) in enumerate(series_a):
    yc = 49.3 + i * 15.55
    shapes.append(dict(type="circle", xref="paper", yref="paper", x0=pxx(402.5), x1=pxx(409.5),
                       y0=pxy(yc + 3.5), y1=pxy(yc - 3.5), fillcolor=col, line=dict(width=0),
                       layer="above"))
    text(name, 426, yc, 10.5, "black", "left")

# legend b
shapes.append(dict(type="rect", xref="paper", yref="paper", x0=pxx(460.7), x1=pxx(606),
                   y0=pxy(499.3), y1=pxy(479.3), line=dict(color="#cccccc", width=1),
                   fillcolor="rgba(255,255,255,0.85)", layer="above"))
shapes.append(dict(type="circle", xref="paper", yref="paper", x0=pxx(471.5), x1=pxx(478.5),
                   y0=pxy(489.3 + 3.5), y1=pxy(489.3 - 3.5), fillcolor="#add8e6",
                   line=dict(width=0), layer="above"))
text("SML37 (15.7. 10:50)", 495, 489.3, 10.5, "black", "left")

fig.update_layout(annotations=ann, shapes=shapes)
fig.write_html("out.html")
